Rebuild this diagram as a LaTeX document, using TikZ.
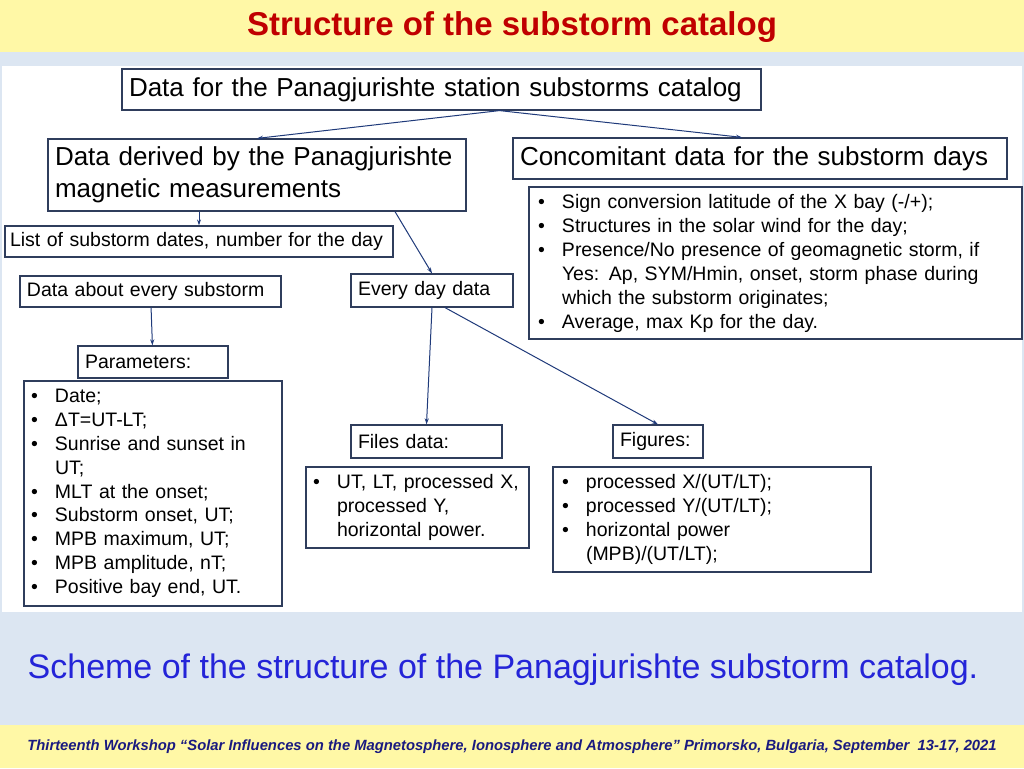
\documentclass[tikz,border=0pt]{standalone}
\usepackage{fontspec}
\setmainfont{Liberation Sans}
\usetikzlibrary{arrows.meta}
\definecolor{bandyellow}{HTML}{FFF8A6}
\definecolor{bandblue}{HTML}{DCE6F2}
\definecolor{boxline}{HTML}{2F3D5C}
\definecolor{arrowblue}{HTML}{1F3A7A}
\definecolor{titlered}{HTML}{C00000}
\definecolor{capblue}{HTML}{2424D8}
\definecolor{footblue}{HTML}{1A1A80}
\newcommand\bitem[1]{{\hangindent=26pt\hangafter=1\noindent\makebox[26pt][l]{\hspace{2pt}\textbullet}#1\par}}
\begin{document}
\begin{tikzpicture}[x=1pt,y=-1pt,>={Stealth[length=6pt,width=4pt]},
  box/.style={draw=boxline,line width=1.2pt,fill=white,inner xsep=7pt,inner ysep=2pt,align=left},
  big text/.style={font=\fontsize{26}{32}\selectfont},
  mid text/.style={font=\fontsize{19.5}{24}\selectfont},
  link/.style={->,draw=arrowblue,line width=1pt}]
\useasboundingbox (0,0) rectangle (1024,768);
% background bands
\fill[bandyellow] (0,0) rectangle (1024,52);
\fill[bandblue] (0,52) rectangle (1024,725);
\fill[white] (2,66) rectangle (1022,612);
\fill[bandyellow] (0,725) rectangle (1024,768);
\node[font=\fontsize{33}{38}\selectfont\bfseries,text=titlered] (title) at (512,27) {Structure of the substorm catalog};

% boxes
\node[box,big text,minimum width=639,minimum height=41,text width=625] (top) at (441.5,89.5) {Data for the Panagjurishte station substorms catalog};
\node[box,big text,minimum width=418,minimum height=72,text width=404] (derived) at (257,175) {Data derived by the Panagjurishte\\magnetic measurements};
\node[box,big text,minimum width=494,minimum height=41,text width=480] (conc) at (760,158.5) {Concomitant data for the substorm days};
\node[box,mid text,minimum width=493,minimum height=152,text width=479] (conclist) at (775.5,263) {%
\bitem{Sign conversion latitude of the X bay (-/+);}
\bitem{Structures in the solar wind for the day;}
\bitem{Presence/No presence of geomagnetic storm, if\newline Yes: Ap, SYM/Hmin, onset, storm phase during\newline which the substorm originates;}
\bitem{Average, max Kp for the day.}};
\node[box,mid text,minimum width=388,minimum height=31,text width=378,inner xsep=5pt] (dates) at (199,241.5) {List of substorm dates, number for the day};
\node[box,mid text,minimum width=261,minimum height=31,text width=247] (every) at (150.5,291.5) {Data about every substorm};
\node[box,mid text,minimum width=162,minimum height=33,text width=148] (everyday) at (432,290.5) {Every day data};
\node[box,mid text,minimum width=150,minimum height=32,text width=136] (params) at (153,362) {Parameters:};
\node[box,mid text,minimum width=258,minimum height=225,text width=248,inner xsep=5pt,font=\fontsize{19.5}{23.8}\selectfont] (paramlist) at (153,493.5) {%
\bitem{Date;}
\bitem{ΔT=UT-LT;}
\bitem{Sunrise and sunset in\newline UT;}
\bitem{MLT at the onset;}
\bitem{Substorm onset, UT;}
\bitem{MPB maximum, UT;}
\bitem{MPB amplitude, nT;}
\bitem{Positive bay end, UT.}};
\node[box,mid text,minimum width=151,minimum height=33,text width=137] (files) at (426.5,441.5) {Files data:};
\node[box,mid text,minimum width=90,minimum height=33,text width=76] (figs) at (658,441.5) {Figures:};
\node[box,mid text,minimum width=223,minimum height=81,text width=213,inner xsep=5pt] (fileslist) at (417.5,507.5) {%
\bitem{UT, LT, processed X,\newline processed Y,\newline horizontal power.}};
\node[box,mid text,minimum width=318,minimum height=105,text width=304] (figslist) at (712,519.5) {%
\bitem{processed X/(UT/LT);}
\bitem{processed Y/(UT/LT);}
\bitem{horizontal power\newline (MPB)/(UT/LT);}};

% connectors
\draw[link] (top.south) ++(58,0) coordinate (topfoot) -- (derived.north);
\draw[link] (topfoot) -- (conc.north -| 742,0);
\draw[link] (derived.south -| dates.north) -- (dates.north);
\draw[link] (derived.south -| 395,0) -- (everyday.north);
\draw[link] (every) -- (params);
\draw[link] (everyday.south) -- (files.north);
\draw[link] (everyday.south -| 445,0) -- (figs.north);

% captions
\node[font=\fontsize{34}{40}\selectfont,text=capblue] (caption) at (503,670) {Scheme of the structure of the Panagjurishte substorm catalog.};
\node[font=\fontsize{14.8}{17}\selectfont\bfseries\itshape,text=footblue] (footer) at (512,747) {Thirteenth Workshop “Solar Influences on the Magnetosphere, Ionosphere and Atmosphere" Primorsko, Bulgaria, September\ \ 13-17, 2021};
\end{tikzpicture}
\end{document}
